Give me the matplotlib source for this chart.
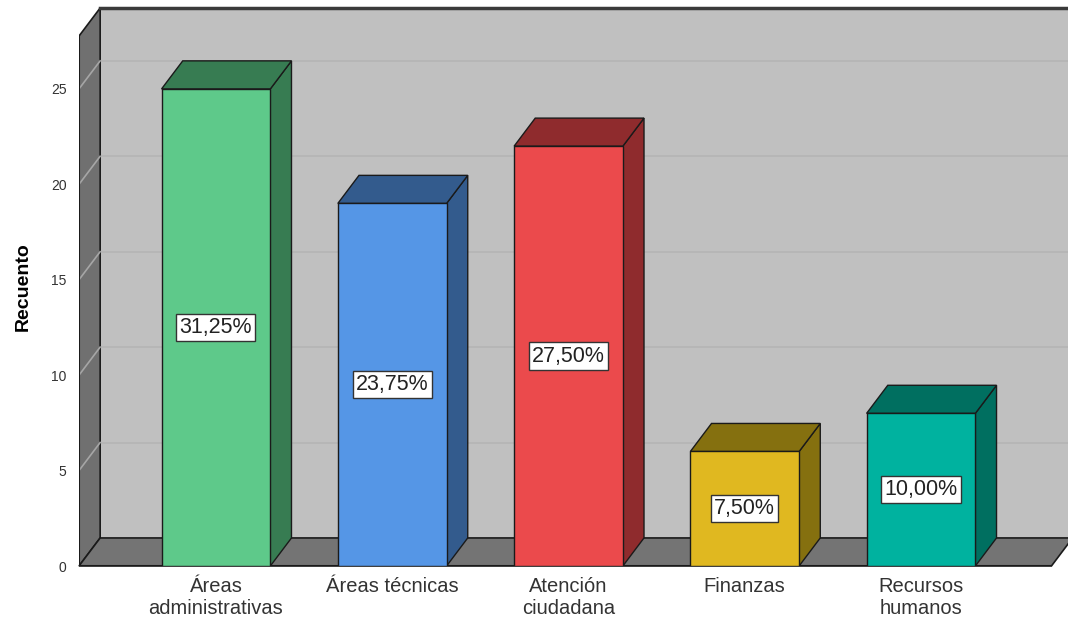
import matplotlib.pyplot as plt
from matplotlib.patches import Polygon, Rectangle

plt.rcParams['font.family'] = ['Liberation Sans', 'DejaVu Sans']

categories = ['Áreas\nadministrativas', 'Áreas técnicas', 'Atención\nciudadana',
              'Finanzas', 'Recursos\nhumanos']
counts = [25, 19, 22, 6, 8]
percent_labels = ['31,25%', '23,75%', '27,50%', '7,50%', '10,00%']
front_colors = ['#5ec98a', '#5596e6', '#eb4a4c', '#e0b820', '#00b29f']
dark_colors = ['#377c52', '#335b8d', '#8f2b2d', '#85700f', '#006f60']
yticks = [0, 5, 10, 15, 20, 25]

# depth offset of the 3D box, in data units
DX, DY = 0.12, 1.47
BAR_W = 0.617
X0, XR = -0.777, 4.74
XMAX, YTOP = 4.834, 29.24

fig = plt.figure(figsize=(10.68, 6.2), dpi=100)
ax = fig.add_axes([79 / 1068, 54 / 620, 989 / 1068, 558 / 620])
ax.set_xlim(X0, XMAX)
ax.set_ylim(0, YTOP)
for s in ax.spines.values():
    s.set_visible(False)
ax.set_facecolor('none')

edge = '#1a1a1a'

# back wall
ax.add_patch(Rectangle((X0 + DX, DY), XMAX - X0 - DX, YTOP - DY,
                       facecolor='#c0c0c0', edgecolor='none', zorder=0))
# left wall
ax.add_patch(Polygon([(X0, 0), (X0 + DX, DY), (X0 + DX, YTOP), (X0, YTOP - DY)],
                     closed=True, facecolor='#707070', edgecolor=edge, lw=1.2, zorder=1))
# floor (runs past the right edge)
ax.add_patch(Polygon([(X0, 0), (XR, 0), (XR + DX, DY), (X0 + DX, DY)],
                     closed=True, facecolor='#747474', edgecolor=edge, lw=1.2, zorder=1,
                     clip_on=False))

# grid lines on the walls
for t in yticks[1:]:
    ax.plot([X0 + DX, XMAX], [t + DY, t + DY], color='#b5b5b5', lw=1.2, zorder=0.5)
    ax.plot([X0, X0 + DX], [t, t + DY], color='#a6a6a6', lw=1.2, zorder=1.5)

# outer frame
ax.plot([X0 + DX, XMAX], [YTOP, YTOP], color='#3a3a3a', lw=2.5, zorder=2, clip_on=False)
ax.plot([X0, XR], [0, 0], color=edge, lw=1.5, zorder=2)
ax.plot([X0, X0], [0, YTOP - DY], color=edge, lw=1.5, zorder=2)

# bars
for i, (v, fc, dc, lab) in enumerate(zip(counts, front_colors, dark_colors, percent_labels)):
    l, r = i - BAR_W / 2, i + BAR_W / 2
    ax.add_patch(Polygon([(r, 0), (r + DX, DY), (r + DX, v + DY), (r, v)],
                         closed=True, facecolor=dc, edgecolor=edge, lw=1, zorder=3))
    ax.add_patch(Polygon([(l, v), (r, v), (r + DX, v + DY), (l + DX, v + DY)],
                         closed=True, facecolor=dc, edgecolor=edge, lw=1, zorder=3))
    ax.add_patch(Rectangle((l, 0), BAR_W, v, facecolor=fc, edgecolor=edge,
                           lw=1, zorder=4))
    ax.text(i, v / 2, lab, ha='center', va='center', fontsize=15.5, color='#222222',
            zorder=5, bbox=dict(boxstyle='square,pad=0.15', facecolor='white',
                                edgecolor='#333333', lw=1))

ax.set_xticks(range(len(categories)), categories, fontsize=14.5, color='#333333',
              linespacing=1.2)
ax.set_yticks(yticks, [str(t) for t in yticks], fontsize=10, color='#333333')
ax.tick_params(axis='both', length=0)
ax.tick_params(axis='x', pad=8)
ax.tick_params(axis='y', pad=9)
ax.set_ylabel('Recuento', fontsize=14, fontweight='bold', labelpad=14)

fig.savefig('out.png', dpi=100)
